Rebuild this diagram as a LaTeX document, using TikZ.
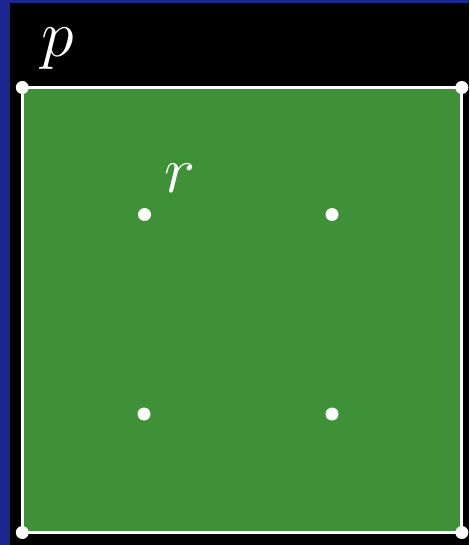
\documentclass[tikz,border=0pt]{standalone}
\definecolor{bgblue}{RGB}{28,38,145}
\definecolor{sqgreen}{RGB}{62,145,54}
\tikzset{
  dot/.style={circle,fill=white,inner sep=0pt,minimum size=13pt},
  lbl/.style={text=white,anchor=base,inner sep=0pt,font=\Huge,scale=2.66}
}
\begin{document}
\begin{tikzpicture}[x=1pt,y=-1pt]
\useasboundingbox (0,0) rectangle (469,545);
\fill[bgblue] (0,0) rectangle (469,545);
\fill[black] (10,3) rectangle (469,545);
\fill[sqgreen,draw=white,line width=3pt] (22.3,87.5) rectangle (461.8,532.5);
\node[dot] (tl) at (22.3,87.5) {};
\node[dot] (tr) at (461.8,87.5) {};
\node[dot] (bl) at (22.3,532.5) {};
\node[dot] (br) at (461.8,532.5) {};
\node[dot] (a) at (144.5,214.5) {};
\node[dot] (b) at (332,214.5) {};
\node[dot] (c) at (144,414) {};
\node[dot] (d) at (332,414) {};
\node[lbl] (p) at (57.5,57) {$p$};
\node[lbl] (r) at (180,193) {$r$};
\end{tikzpicture}
\end{document}
